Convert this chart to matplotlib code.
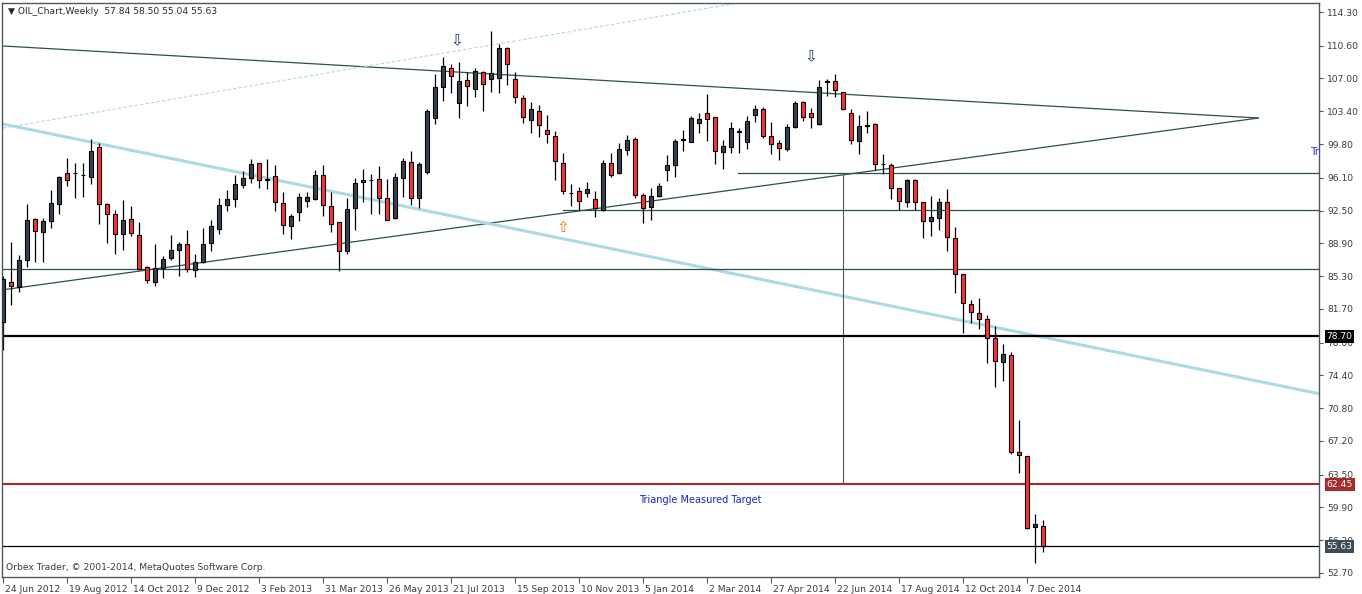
import matplotlib
matplotlib.use("Agg")
import matplotlib.pyplot as plt
import matplotlib.transforms as mtransforms

# weekly bars, index 0 = 24 Jun 2012
opens = [80.3, 84.7, 84.1, 87.1, 91.6, 90.1, 91.3, 93.2, 96.6, 96.6,
         96.4, 96.2, 99.45, 93.2, 92.1, 89.9, 91.6, 89.8, 86.3, 84.6,
         86.15, 87.25, 88.2, 88.8, 86.0, 86.8, 88.9, 90.44, 93.14, 93.73,
         95.3, 96.1, 97.7, 95.95, 96.27, 93.3, 90.77, 92.3, 93.6, 93.73,
         96.4, 92.97, 91.2, 88.1, 92.74, 95.6, 95.85, 95.93, 93.85, 91.7,
         96.1, 97.8, 93.85, 96.7, 102.63, 106.03, 108.12, 104.34, 106.8, 105.8,
         107.68, 106.9, 107.0, 110.3, 106.9, 104.82, 102.4, 103.4, 101.3, 100.65,
         97.7, 94.43, 94.7, 94.4, 93.73, 92.6, 97.7, 96.6, 99.1, 100.32,
         94.17, 92.85, 94.06, 96.92, 97.47, 100.3, 100.06, 102.14, 103.2, 102.74,
         98.9, 99.44, 101.16, 100.03, 102.96, 103.6, 100.65, 99.88, 99.26, 101.64,
         104.4, 103.2, 101.97, 106.65, 106.69, 105.48, 103.2, 100.1, 101.8, 101.97,
         97.58, 97.47, 94.97, 93.4, 95.85, 93.4, 91.3, 91.65, 93.4, 89.45,
         85.5, 82.2, 81.2, 80.56, 78.47, 75.83, 76.64, 65.95, 65.55, 57.72,
         57.84]
highs = [85.3, 89.1, 87.6, 93.2, 91.7, 91.65, 94.75, 96.3, 98.3, 97.7,
         97.7, 100.4, 99.9, 93.3, 92.6, 93.7, 93.0, 91.2, 86.45, 88.8,
         87.55, 89.8, 89.1, 90.4, 87.7, 90.55, 91.5, 93.85, 94.75, 96.4,
         96.8, 98.2, 97.75, 98.16, 97.5, 94.5, 92.1, 94.4, 94.5, 96.95,
         97.5, 94.5, 91.25, 93.85, 96.04, 97.1, 96.5, 97.36, 95.96, 96.6,
         98.3, 99.04, 97.8, 103.6, 107.5, 109.4, 108.56, 108.85, 107.68, 108.2,
         107.8, 112.25, 110.75, 110.5, 107.75, 105.2, 104.4, 104.1, 103.0, 101.23,
         98.8, 95.38, 95.1, 95.6, 94.7, 98.0, 98.8, 99.88, 100.8, 100.6,
         94.4, 94.94, 95.5, 98.6, 100.4, 101.34, 102.88, 103.18, 105.3, 102.8,
         100.24, 102.25, 101.6, 102.88, 104.1, 103.9, 102.25, 100.3, 102.0, 104.5,
         104.5, 103.74, 106.83, 106.94, 107.5, 105.5, 103.6, 103.0, 103.43, 102.1,
         98.7, 97.75, 95.0, 96.0, 96.0, 93.45, 94.1, 93.85, 94.83, 90.73,
         85.55, 82.68, 82.86, 81.03, 79.82, 77.84, 76.97, 69.5, 65.6, 59.18,
         58.50]
lows = [77.2, 82.1, 83.6, 86.3, 86.8, 86.9, 90.6, 92.1, 95.2, 93.9,
        94.0, 95.4, 91.0, 88.9, 87.7, 88.2, 89.7, 86.0, 84.5, 84.2,
        85.06, 87.1, 85.35, 85.7, 85.2, 86.7, 88.1, 89.95, 92.4, 92.9,
        95.0, 95.5, 95.0, 94.9, 92.4, 89.9, 89.35, 91.3, 92.9, 93.7,
        91.85, 90.1, 85.9, 87.7, 90.4, 93.4, 92.1, 92.1, 91.5, 91.6,
        94.0, 93.1, 92.74, 96.5, 102.0, 104.56, 105.44, 102.63, 104.0, 105.0,
        103.46, 105.55, 105.44, 106.3, 104.34, 102.14, 101.05, 100.6, 99.95, 95.9,
        94.35, 93.0, 92.56, 93.95, 91.76, 92.5, 96.2, 96.5, 98.56, 93.85,
        91.16, 91.43, 94.0, 95.7, 96.2, 99.07, 100.0, 100.98, 100.17, 97.58,
        97.03, 98.8, 98.8, 99.22, 102.2, 100.43, 98.67, 98.1, 99.07, 101.6,
        102.36, 101.53, 101.9, 105.08, 105.0, 103.5, 99.84, 98.67, 100.98, 96.95,
        96.48, 93.77, 92.56, 92.92, 92.56, 89.52, 89.74, 90.36, 88.09, 83.5,
        79.1, 80.2, 79.46, 75.8, 73.16, 73.78, 65.73, 63.7, 57.55, 53.83,
        55.04]
closes = [84.95, 84.2, 87.1, 91.5, 90.2, 91.35, 93.3, 96.15, 95.9, 96.65,
          96.45, 99.0, 93.2, 92.1, 89.9, 91.5, 90.0, 86.05, 84.87, 86.15,
          87.14, 88.2, 88.8, 86.1, 86.8, 88.8, 90.77, 93.1, 93.73, 95.38,
          96.04, 97.6, 95.8, 95.9, 93.4, 90.9, 91.85, 93.95, 93.95, 96.4,
          93.1, 90.99, 88.1, 92.7, 95.5, 95.85, 95.9, 93.85, 91.5, 96.2,
          97.94, 93.9, 97.57, 103.43, 106.03, 108.34, 107.3, 106.7, 106.14, 107.8,
          106.36, 107.57, 110.3, 108.56, 104.93, 102.74, 103.6, 101.86, 100.87, 97.9,
          94.6, 94.45, 93.6, 94.84, 92.74, 97.7, 96.37, 99.23, 100.2, 94.17,
          92.78, 94.06, 95.16, 97.47, 100.1, 100.35, 102.63, 102.52, 102.52, 99.04,
          99.55, 101.53, 101.2, 102.3, 103.6, 100.65, 99.8, 99.33, 101.64, 104.3,
          102.8, 102.74, 106.03, 106.7, 105.7, 103.68, 100.2, 101.78, 101.85, 97.58,
          97.6, 94.94, 93.6, 95.85, 93.4, 91.3, 91.76, 93.4, 89.6, 85.5,
          82.3, 81.32, 80.56, 78.47, 75.94, 76.7, 65.95, 65.62, 57.6, 58.05,
          55.63]

date_ticks = [0, 8, 16, 24, 32, 40, 48, 56, 64, 72, 80, 88, 96, 104, 112, 120, 128]
date_labels = ["24 Jun 2012", "19 Aug 2012", "14 Oct 2012", "9 Dec 2012", "3 Feb 2013",
               "31 Mar 2013", "26 May 2013", "21 Jul 2013", "15 Sep 2013", "10 Nov 2013",
               "5 Jan 2014", "2 Mar 2014", "27 Apr 2014", "22 Jun 2014", "17 Aug 2014",
               "12 Oct 2014", "7 Dec 2014"]
price_ticks = [114.30, 110.60, 107.00, 103.40, 99.80, 96.10, 92.50, 88.90, 85.30,
               81.70, 78.00, 74.40, 70.80, 67.20, 63.50, 59.90, 56.30, 52.70]

# trend lines (bar index, price)
upper_line = ([0, 156.9], [110.57, 102.66])
lower_line = ([0, 156.9], [83.8, 102.66])
blue_line = ([0, 170], [102.0, 71.4])
dashed_line = ([0, 100], [101.56, 116.5])
hlines_partial = [(96.6, 91.9), (92.52, 70.0), (86.05, 0.0)]
key_levels = {"78.70": 78.70, "62.45": 62.45, "55.63": 55.63}

fig = plt.figure(figsize=(13.62, 5.94), dpi=100)
ax = fig.add_axes([2.3 / 1362, 17 / 594, 1316.7 / 1362, 574 / 594])
ax.set_xlim(-0.09, 164.5)
ax.set_ylim(52.26, 115.29)

frame = "#4d5863"
for s in ax.spines.values():
    s.set_color(frame)
    s.set_linewidth(1)

# objects
ax.plot(*upper_line, color="#2F4F4F", lw=0.9, zorder=1)
ax.plot(*lower_line, color="#2F4F4F", lw=0.9, zorder=1)
ax.plot(*blue_line, color="#ADD8E6", lw=2.2, zorder=1)
ax.plot(*dashed_line, color="#ADD8E6", lw=0.8, ls=(0, (3, 2)), zorder=1)
for lvl, start in hlines_partial:
    ax.plot([start, 170], [lvl, lvl], color="#2F4F4F", lw=0.9, zorder=1)
ax.plot([105, 105], [96.6, 62.45], color="#555555", lw=0.8, zorder=1)
ax.axhline(key_levels["78.70"], color="black", lw=1.6, zorder=1)
ax.axhline(key_levels["62.45"], color="#A52A2A", lw=1.5, zorder=1)
ax.axhline(key_levels["55.63"], color="black", lw=0.9, zorder=1)

# candles
idx = list(range(len(opens)))
ax.vlines(idx, lows, highs, color="black", lw=0.9, zorder=2)
bull = [i for i in idx if closes[i] >= opens[i]]
bear = [i for i in idx if closes[i] < opens[i]]
ax.bar(bull, [max(closes[i] - opens[i], 0.05) for i in bull],
       bottom=[opens[i] for i in bull], width=0.55,
       color="#37424E", edgecolor="black", linewidth=0.8, zorder=3)
ax.bar(bear, [opens[i] - closes[i] for i in bear],
       bottom=[closes[i] for i in bear], width=0.55,
       color="#FF3333", edgecolor="black", linewidth=0.8, zorder=3)

# arrows
ax.text(56.75, 111.2, "⇩", color="#1b2a70", fontsize=11, ha="center", va="center", zorder=4)
ax.text(101.0, 109.4, "⇩", color="#1b2a70", fontsize=11, ha="center", va="center", zorder=4)
ax.text(70.0, 90.6, "⇧", color="#E07800", fontsize=11, ha="center", va="center", zorder=4)

ax.text(87.1, 60.7, "Triangle Measured Target", color="#1E1EC8", fontsize=7,
        ha="center", va="center", zorder=4)
ax.text(163.4, 98.95, "Tr", color="#3030D0", fontsize=7.5,
        ha="left", va="center", clip_on=True, zorder=4)

# axes
ax.yaxis.tick_right()
ax.set_yticks(price_ticks)
ax.set_yticklabels(["%.2f" % v for v in price_ticks])
ax.tick_params(axis="y", direction="out", length=3, width=0.8, pad=3,
               labelsize=6.6, colors="#3a3a3a")
ax.tick_params(axis="y", which="both", color=frame)
ax.set_xticks(date_ticks)
ax.set_xticklabels(date_labels)
ax.tick_params(axis="x", direction="out", length=4, width=0.8, pad=1.5,
               labelsize=6.6, colors="#3a3a3a")
ax.tick_params(axis="x", color=frame)
offset = mtransforms.ScaledTranslation(2 / 100, 0, fig.dpi_scale_trans)
for lab in ax.get_xticklabels():
    lab.set_horizontalalignment("left")
    lab.set_transform(lab.get_transform() + offset)

# price boxes
boxes = [("78.70", "black"), ("62.45", "#A52A2A"), ("55.63", "#3f4b56")]
for txt, bg in boxes:
    ax.annotate(txt, xy=(1, key_levels[txt]), xycoords=("axes fraction", "data"),
                xytext=(5.5, 0), textcoords="offset points", ha="left", va="center",
                fontsize=6.6, color="white", zorder=10, annotation_clip=False,
                bbox=dict(boxstyle="square,pad=0.2", fc=bg, ec="none"))

fig.text(8 / 1362, 1 - 12 / 594, "▼ OIL_Chart,Weekly  57.84 58.50 55.04 55.63",
         fontsize=6.6, color="#2a2a2a", va="center", ha="left")
fig.text(6 / 1362, 1 - 568 / 594, "Orbex Trader, © 2001-2014, MetaQuotes Software Corp.",
         fontsize=6.6, color="#3a3a3a", va="center", ha="left")

fig.savefig("out.png", dpi=100, facecolor="white")
